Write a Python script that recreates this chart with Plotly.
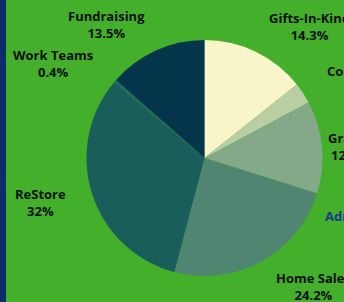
import plotly.graph_objects as go

# Data
categories = ["Gifts-In-Kind", "Contributions", "Grants", "Administration",
              "Home Sales", "ReStore", "Work Teams", "Fundraising"]
values = [14.3, 2.9, 12.6, 0.1, 24.2, 32.0, 0.4, 13.5]

# Styling
slice_colors = ["#f7f5c9", "#b9cfa3", "#83a989", "#6f9c80",
                "#4f8571", "#1a5e5b", "#1f6a63", "#04354b"]
label_colors = ["#111111", "#111111", "#111111", "#1b3a8c",
                "#111111", "#111111", "#111111", "#111111"]
# label centres in pixels (x, y from top)
label_pos = [(309, 26), (372, 79), (350, 146), (374, 224),
             (313, 286), (40, 202), (53, 63), (106, 25)]

W, H = 344, 302
cx, cy, r = 204.5, 158, 118

fig = go.Figure(go.Pie(
    labels=categories, values=values, sort=False, direction="clockwise",
    rotation=0, marker=dict(colors=slice_colors, line=dict(width=0)),
    textinfo="none", hoverinfo="none",
    domain=dict(x=[(cx - r) / W, (cx + r) / W], y=[1 - (cy + r) / H, 1 - (cy - r) / H]),
))

for cat, v, col, (px, py) in zip(categories, values, label_colors, label_pos):
    fig.add_annotation(
        x=px / W, y=1 - py / H, xref="paper", yref="paper",
        xanchor="center", yanchor="middle", showarrow=False,
        text=f"<b>{cat}</b><br><b>{v:g}%</b>", align="center",
        font=dict(family="Open Sans", size=13, color=col),
    )

fig.add_shape(type="rect", xref="paper", yref="paper",
              x0=0, x1=6 / W, y0=0, y1=1, fillcolor="#0c2d6c", line=dict(width=0), layer="above")

fig.update_layout(
    width=W, height=H, margin=dict(l=0, r=0, t=0, b=0),
    paper_bgcolor="#44af2b", plot_bgcolor="#44af2b", showlegend=False,
)

fig.write_html("out.html", config={"displayModeBar": False},
               post_script="document.body.style.margin='0';document.body.style.overflow='hidden';")
